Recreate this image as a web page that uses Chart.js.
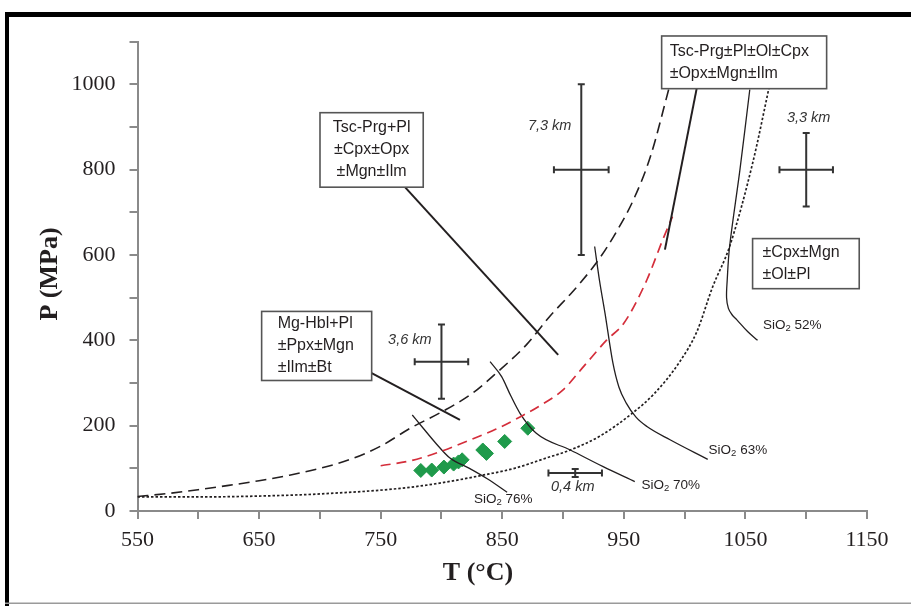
<!DOCTYPE html>
<html><head><meta charset="utf-8">
<script src="https://cdn.jsdelivr.net/npm/chart.js@4"></script>
<style>html,body{margin:0;padding:0;background:#fff}canvas{display:block}</style>
</head><body>
<canvas id="c" width="911" height="606"></canvas>
<script>
// ---------- DATA ----------
const xTickLabels = [550, 650, 750, 850, 950, 1050, 1150];
const yTickLabels = [0, 200, 400, 600, 800, 1000];

// black long-dashed curve
const upperT = [550,575,600,625,650,675,700,725,750,775,800,825,845,870,889,905,914,930,944,958,972,988];
const upperP = [34,41,50,60,71,84,100,121,152,195,232,275,323,390,456,505,534,592,655,730,832,1000];
// red dashed curve
const redT = [750,775,800,823,845,865,880,900,917,936,950,969,982,990];
const redP = [106,118,140,166,192,221,245,284,339,401,440,542,636,690];
// dotted curve
const dotT = [550,600,650,700,766,800,834,860,886,906,930,956,975,996,1010,1023,1037,1056,1070];
const dotP = [33,33,35,40,53,66,84,100,124,143,175,227,275,350,420,525,620,816,1000];
// SiO2 isopleths
const s76T = [776,785,795,807,823,838,854];
const s76P = [225,194,160,124,100,75,44];
const s70T = [840,849.5,857,864.6,878,906,933,959];
const s70P = [350,315,270,229,182,143,104,69];
const s63T = [926,930,934.5,941,946,952,960,969,988,1019];
const s63P = [620,540,464,347,290,253,220,198,167,121];
const s52T = [1053.6,1045.5,1037,1035,1034.5,1036,1039,1043,1052,1060];
const s52P = [988,800,620,540,500,475,460,448,420,400];
// green diamonds (amphibole P-T)
const amphT = [783,792,802,810,814,817,834,837,852,871];
const amphP = [95,96,103,110,115,120,143,135,163,194];
// error crosses
const ebT = [800, 915, 1100, 910];
const ebP = [350, 800, 800, 89];
const ebTerr = [22, 22.5, 22, 22];
const ebPerr = [87, 200, 86, 9.5];
const ebLabels = ['3,6 km', '7,3 km', '3,3 km', '0,4 km'];

// ---------- ANNOTATION LAYOUT (data coordinates) ----------
const ebLabelPos = [[774,401],[889,902],[1102,922],[908,57]];
const boxes = [
  {t1:700.1,t2:785,p1:933.6,p2:759,lines:['Tsc-Prg+Pl','±Cpx±Opx','±Mgn±Ilm'],align:'center',inset:0},
  {t1:652.1,t2:742.6,p1:467.8,p2:305.9,lines:['Mg-Hbl+Pl','±Ppx±Mgn','±Ilm±Bt'],align:'left',inset:16},
  {t1:981.1,t2:1116.8,p1:1113.4,p2:989.9,lines:['Tsc-Prg±Pl±Ol±Cpx','±Opx±Mgn±Ilm'],align:'left',inset:8},
  {t1:1055.9,t2:1143.6,p1:638.5,p2:521.1,lines:['±Cpx±Mgn','±Ol±Pl'],align:'left',inset:10}
];
const leaders = [[[770,759],[896,366]],[[742.6,323],[815.2,213.6]],[[1009.9,990],[983.8,612.7]]];
const sioLabels = [['76%',850.8,27.5],['70%',988.6,61],['63%',1043.8,143.2],['52%',1088.5,434.3]];

const mk = (T,P) => T.map((t,i) => ({x:t, y:P[i]}));
const INK = '#231f20';

const annot = {
  id: 'annot',
  beforeDraw(chart){
    const ctx = chart.ctx; ctx.save();
    ctx.fillStyle = '#fff'; ctx.fillRect(0,0,chart.width,chart.height);
    ctx.fillStyle = '#000'; ctx.fillRect(5,12,906,5); ctx.fillRect(5,12,4,594);
    ctx.fillStyle = '#9a9a9a'; ctx.fillRect(5,602.5,906,1.5);
    ctx.restore();
  },
  afterDatasetsDraw(chart){
    const ctx = chart.ctx, xs = chart.scales.x, ys = chart.scales.y;
    const X = v => xs.getPixelForValue(v), Y = v => ys.getPixelForValue(v);
    ctx.save();
    // error crosses
    ctx.strokeStyle = '#333'; ctx.lineWidth = 2;
    const cap = 3.5;
    for (let i = 0; i < ebT.length; i++) {
      const cx = X(ebT[i]), cy = Y(ebP[i]);
      const x1 = X(ebT[i]-ebTerr[i]), x2 = X(ebT[i]+ebTerr[i]);
      const y1 = Y(ebP[i]+ebPerr[i]), y2 = Y(ebP[i]-ebPerr[i]);
      ctx.beginPath();
      ctx.moveTo(x1,cy); ctx.lineTo(x2,cy);
      ctx.moveTo(x1,cy-cap); ctx.lineTo(x1,cy+cap);
      ctx.moveTo(x2,cy-cap); ctx.lineTo(x2,cy+cap);
      ctx.moveTo(cx,y1); ctx.lineTo(cx,y2);
      ctx.moveTo(cx-cap,y1); ctx.lineTo(cx+cap,y1);
      ctx.moveTo(cx-cap,y2); ctx.lineTo(cx+cap,y2);
      ctx.stroke();
      ctx.fillStyle = '#333';
      ctx.font = 'italic 14.5px "Liberation Sans"';
      ctx.textAlign = 'center'; ctx.textBaseline = 'middle';
      ctx.fillText(ebLabels[i], X(ebLabelPos[i][0]), Y(ebLabelPos[i][1]));
    }
    // leader lines
    ctx.strokeStyle = INK; ctx.lineWidth = 2;
    leaders.forEach(l => { ctx.beginPath(); ctx.moveTo(X(l[0][0]),Y(l[0][1])); ctx.lineTo(X(l[1][0]),Y(l[1][1])); ctx.stroke(); });
    // boxes
    boxes.forEach(b => {
      const x1 = X(b.t1), x2 = X(b.t2), y1 = Y(b.p1), y2 = Y(b.p2);
      ctx.fillStyle = '#fff'; ctx.fillRect(x1,y1,x2-x1,y2-y1);
      ctx.strokeStyle = '#555'; ctx.lineWidth = 1.6; ctx.strokeRect(x1,y1,x2-x1,y2-y1);
      ctx.fillStyle = INK; ctx.font = '16px "Liberation Sans"'; ctx.textBaseline = 'middle';
      const lh = 22, n = b.lines.length;
      const y0 = y1 + ((y2-y1) - (n-1)*lh)/2;
      ctx.textAlign = b.align;
      const tx = b.align === 'center' ? (x1+x2)/2 : x1 + b.inset;
      b.lines.forEach((s,k) => ctx.fillText(s, tx, y0 + k*lh));
    });
    // SiO2 labels
    sioLabels.forEach(s => {
      const big = '13.5px "Liberation Sans"', small = '9.5px "Liberation Sans"';
      ctx.font = big; const w1 = ctx.measureText('SiO').width, w3 = ctx.measureText(' ' + s[0]).width;
      ctx.font = small; const w2 = ctx.measureText('2').width;
      let x = X(s[1]) - (w1+w2+w3)/2; const y = Y(s[2]);
      ctx.fillStyle = INK; ctx.textAlign = 'left'; ctx.textBaseline = 'middle';
      ctx.font = big; ctx.fillText('SiO', x, y); x += w1;
      ctx.font = small; ctx.fillText('2', x, y+3); x += w2;
      ctx.font = big; ctx.fillText(' ' + s[0], x, y);
    });
    // axis titles
    ctx.fillStyle = INK; ctx.font = 'bold 26px "Liberation Serif"';
    ctx.textAlign = 'center'; ctx.textBaseline = 'middle';
    ctx.fillText('T (°C)', 478, 573);
    ctx.translate(50, 274); ctx.rotate(-Math.PI/2);
    ctx.fillText('P (MPa)', 0, 0);
    ctx.restore();
  }
};

const lineDs = (T,P,extra) => Object.assign({data: mk(T,P), showLine:true, pointRadius:0, borderColor:INK, borderWidth:1.3, fill:false, cubicInterpolationMode:'monotone'}, extra);

new Chart(document.getElementById('c'), {
  type: 'scatter',
  data: { datasets: [
    lineDs(dotT, dotP, {borderWidth:1.7, borderDash:[2.5,2]}),
    lineDs(upperT, upperP, {borderWidth:1.6, borderDash:[11,6]}),
    lineDs(redT, redP, {borderWidth:1.7, borderDash:[10,6], borderColor:'#d42e3b'}),
    lineDs(s76T, s76P, {}),
    lineDs(s70T, s70P, {}),
    lineDs(s63T, s63P, {}),
    lineDs(s52T, s52P, {cubicInterpolationMode:'default', tension:0.35}),
    {data: mk(amphT, amphP), showLine:false, pointStyle:'rectRot', pointRadius:7, backgroundColor:'#1f9a4b', borderColor:'#1f9a4b', borderWidth:1}
  ]},
  options: {
    responsive:false, animation:false, devicePixelRatio:1,
    layout: {padding:{left:0, top:41.7, right:44, bottom:0}},
    plugins: {legend:{display:false}, tooltip:{enabled:false}},
    scales: {
      x: {type:'linear', min:550, max:1150,
        afterFit: s => { s.height = 95; },
        ticks: {stepSize:50, autoSkip:false, maxRotation:0, padding:8, color:INK,
          font:{family:'Liberation Serif', size:22},
          callback: v => xTickLabels.includes(v) ? String(v) : ''},
        grid: {drawOnChartArea:false, tickLength:8, color:'#8a8a8a', lineWidth:2},
        border: {color:'#8a8a8a', width:2}},
      y: {type:'linear', min:0, max:1100,
        afterFit: s => { s.width = 137.5; },
        ticks: {stepSize:100, autoSkip:false, padding:14, color:INK,
          font:{family:'Liberation Serif', size:22},
          callback: v => yTickLabels.includes(v) ? String(v) : ''},
        grid: {drawOnChartArea:false, tickLength:8, color:'#8a8a8a', lineWidth:2},
        border: {color:'#8a8a8a', width:2}}
    }
  },
  plugins: [annot]
});
</script>
</body></html>
